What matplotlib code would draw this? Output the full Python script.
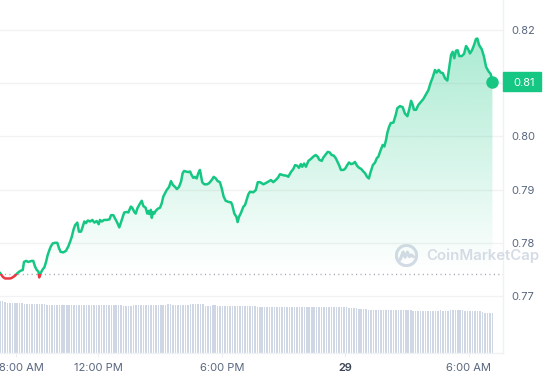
import numpy as np
import matplotlib
matplotlib.use('Agg')
import matplotlib.pyplot as plt
from matplotlib.patches import Rectangle, Circle
from matplotlib.transforms import ScaledTranslation, blended_transform_factory

plt.rcParams['font.family'] = ['Inter', 'DejaVu Sans']

# price series: hours since 00:00 of the 28th, price in USD
times = [7.21, 7.35, 7.46, 7.70, 7.78, 7.94, 8.06, 8.19, 8.32, 8.38,
         8.48, 8.59, 8.75, 8.83, 8.92, 9.00, 9.08, 9.12, 9.19, 9.27,
         9.37, 9.45, 9.53, 9.61, 9.68, 9.78, 9.89, 10.00, 10.08, 10.16,
         10.29, 10.42, 10.53, 10.62, 10.70, 10.78, 10.86, 10.97, 11.05, 11.15,
         11.23, 11.31, 11.39, 11.48, 11.59, 11.70, 11.80, 11.91, 12.01, 12.07,
         12.16, 12.27, 12.40, 12.53, 12.61, 12.72, 12.80, 12.91, 13.01, 13.13,
         13.25, 13.37, 13.45, 13.57, 13.64, 13.74, 13.81, 13.89, 14.02, 14.10,
         14.18, 14.29, 14.37, 14.42, 14.47, 14.54, 14.59, 14.65, 14.71, 14.78,
         14.88, 14.99, 15.07, 15.15, 15.23, 15.31, 15.43, 15.52, 15.61, 15.72,
         15.81, 15.91, 16.01, 16.09, 16.16, 16.25, 16.36, 16.45, 16.53, 16.61,
         16.69, 16.77, 16.85, 16.93, 16.98, 17.04, 17.14, 17.27, 17.37, 17.50,
         17.60, 17.70, 17.79, 17.90, 17.99, 18.08, 18.18, 18.31, 18.44, 18.50,
         18.60, 18.70, 18.76, 18.83, 18.93, 19.04, 19.12, 19.28, 19.36, 19.52,
         19.64, 19.74, 19.85, 20.01, 20.12, 20.25, 20.38, 20.49, 20.61, 20.71,
         20.82, 20.98, 21.15, 21.22, 21.35, 21.47, 21.55, 21.65, 21.74, 21.83,
         21.90, 21.99, 22.08, 22.20, 22.33, 22.44, 22.55, 22.65, 22.73, 22.85,
         22.92, 23.04, 23.14, 23.23, 23.33, 23.43, 23.53, 23.59, 23.69, 23.78,
         23.90, 23.98, 24.07, 24.17, 24.27, 24.37, 24.46, 24.56, 24.66, 24.76,
         24.87, 24.95, 25.05, 25.14, 25.19, 25.33, 25.44, 25.52, 25.60, 25.68,
         25.81, 25.89, 25.97, 26.03, 26.12, 26.20, 26.33, 26.44, 26.52, 26.65,
         26.78, 26.89, 27.01, 27.10, 27.19, 27.27, 27.33, 27.43, 27.54, 27.67,
         27.78, 27.90, 28.03, 28.14, 28.24, 28.35, 28.43, 28.53, 28.63, 28.73,
         28.84, 28.95, 29.05, 29.13, 29.21, 29.29, 29.37, 29.45, 29.53, 29.65,
         29.76, 29.86, 29.96, 30.05, 30.15, 30.25, 30.34, 30.41, 30.49, 30.62,
         30.73, 30.83, 30.94, 31.06, 31.14]

prices = [0.7744, 0.7736, 0.7733, 0.7733, 0.7734, 0.7738, 0.7743, 0.7747, 0.7749, 0.7764,
          0.7766, 0.7764, 0.7766, 0.7766, 0.7755, 0.7749, 0.7746, 0.7735, 0.7743, 0.7749,
          0.7754, 0.7764, 0.7777, 0.7786, 0.7793, 0.7799, 0.7800, 0.7800, 0.7790, 0.7783,
          0.7782, 0.7785, 0.7793, 0.7802, 0.7811, 0.7824, 0.7833, 0.7838, 0.7821, 0.7821,
          0.7830, 0.7840, 0.7837, 0.7842, 0.7840, 0.7843, 0.7838, 0.7841, 0.7835, 0.7843,
          0.7840, 0.7843, 0.7843, 0.7844, 0.7852, 0.7852, 0.7846, 0.7838, 0.7829, 0.7843,
          0.7857, 0.7858, 0.7857, 0.7868, 0.7866, 0.7858, 0.7855, 0.7865, 0.7874, 0.7879,
          0.7869, 0.7866, 0.7855, 0.7860, 0.7854, 0.7862, 0.7847, 0.7858, 0.7855, 0.7860,
          0.7864, 0.7866, 0.7874, 0.7887, 0.7893, 0.7899, 0.7905, 0.7916, 0.7909, 0.7905,
          0.7901, 0.7905, 0.7915, 0.7931, 0.7935, 0.7934, 0.7933, 0.7934, 0.7927, 0.7922,
          0.7924, 0.7921, 0.7931, 0.7937, 0.7926, 0.7914, 0.7910, 0.7910, 0.7912, 0.7918,
          0.7924, 0.7921, 0.7916, 0.7914, 0.7902, 0.7887, 0.7879, 0.7877, 0.7876, 0.7871,
          0.7855, 0.7849, 0.7839, 0.7849, 0.7857, 0.7868, 0.7871, 0.7891, 0.7896, 0.7895,
          0.7899, 0.7914, 0.7914, 0.7910, 0.7912, 0.7915, 0.7918, 0.7914, 0.7918, 0.7922,
          0.7929, 0.7927, 0.7926, 0.7924, 0.7933, 0.7939, 0.7946, 0.7945, 0.7941, 0.7948,
          0.7943, 0.7949, 0.7943, 0.7954, 0.7958, 0.7962, 0.7965, 0.7962, 0.7956, 0.7954,
          0.7960, 0.7966, 0.7971, 0.7970, 0.7965, 0.7964, 0.7959, 0.7954, 0.7946, 0.7937,
          0.7937, 0.7939, 0.7945, 0.7951, 0.7948, 0.7949, 0.7952, 0.7945, 0.7941, 0.7939,
          0.7934, 0.7931, 0.7924, 0.7921, 0.7929, 0.7946, 0.7951, 0.7959, 0.7962, 0.7971,
          0.7984, 0.7981, 0.7993, 0.8006, 0.8018, 0.8025, 0.8026, 0.8040, 0.8053, 0.8057,
          0.8055, 0.8043, 0.8038, 0.8051, 0.8067, 0.8059, 0.8050, 0.8050, 0.8059, 0.8065,
          0.8070, 0.8078, 0.8087, 0.8101, 0.8111, 0.8125, 0.8120, 0.8125, 0.8120, 0.8119,
          0.8109, 0.8105, 0.8131, 0.8153, 0.8159, 0.8147, 0.8161, 0.8162, 0.8151, 0.8151,
          0.8155, 0.8170, 0.8164, 0.8156, 0.8162, 0.8172, 0.8183, 0.8184, 0.8172, 0.8164,
          0.8150, 0.8131, 0.8123, 0.8117, 0.8103]

# volume bars (relative units), left to right
volumes = [52, 52, 51, 50, 50, 50, 50, 50, 50, 50,
           49, 49, 49, 49, 49, 49, 49, 49, 49, 48,
           48, 48, 48, 48, 48, 48, 48, 48, 48, 48,
           48, 48, 48, 48, 48, 48, 48, 48, 48, 48,
           48, 48, 48, 48, 48, 48, 48, 48, 48, 48,
           47, 47, 47, 47, 48, 48, 48, 48, 48, 48,
           48, 48, 48, 48, 48, 48, 48, 48, 49, 49,
           48, 48, 48, 48, 48, 48, 48, 49, 49, 49,
           49, 49, 49, 47, 47, 47, 48, 48, 47, 47,
           47, 47, 47, 47, 47, 47, 47, 47, 47, 47,
           47, 47, 47, 47, 46, 46, 46, 46, 46, 46,
           46, 46, 46, 46, 46, 46, 46, 46, 46, 46,
           46, 46, 46, 46, 46, 46, 46, 46, 46, 46,
           46, 46, 46, 46, 46, 46, 46, 46, 46, 46,
           46, 45, 45, 45, 45, 44, 44, 44, 44, 43,
           43, 43, 43, 43, 43, 43, 43, 43, 43, 43,
           43, 43, 43, 43, 43, 43, 43, 42, 42, 42,
           42, 42, 42, 42, 42, 42, 42, 42, 43, 42,
           42, 42, 43, 43, 43, 43, 43, 43, 42, 42,
           42, 42, 42, 42, 42, 41, 40, 40, 40, 40]

open_price = 0.7741
y_ticks = [0.77, 0.78, 0.79, 0.80, 0.81, 0.82]
y_labels = ['0.77', '0.78', '0.79', '0.80', '', '0.82']
x_ticks = [8, 12, 18, 24, 30]
x_labels = ['8:00 AM', '12:00 PM', '6:00 PM', '29', '6:00 AM']

green = '#16c784'
red = '#ea3943'
grey = '#58667e'

fig = plt.figure(figsize=(5.45, 3.8), dpi=100)
ax = fig.add_axes([0, 27 / 380, 503 / 545, 353 / 380])
ax2 = ax.twinx()
ax.set_zorder(ax2.get_zorder() + 1)
ax.patch.set_visible(False)

x0, x1 = 7.214, 31.655
ax.set_xlim(x0, x1)
ax.set_ylim(0.75929, 0.82564)

# volume bars
bar_x = np.linspace(times[0], times[-1], len(volumes))
step = bar_x[1] - bar_x[0]
ax2.bar(bar_x, volumes, width=step * 0.62, color='#cfd6e4', linewidth=0)
ax2.set_ylim(0, max(volumes) / 0.147)
ax2.set_yticks([])
for s in ax2.spines.values():
    s.set_visible(False)

# gradient fill under the line
poly = ax.fill_between(times, prices, open_price, color='none', linewidth=0)
grad = np.zeros((256, 1, 4))
grad[:, 0, :3] = matplotlib.colors.to_rgb(green)
grad[:, 0, 3] = np.linspace(0.0, 0.36, 256)
im = ax.imshow(grad, extent=[x0, x1, open_price, max(prices)], origin='lower',
               aspect='auto', zorder=1)
im.set_clip_path(poly.get_paths()[0], transform=ax.transData)

# line: green above open, red below
line_g, = ax.plot(times, prices, color=green, lw=1.8, zorder=3,
                  solid_joinstyle='round', solid_capstyle='round')
line_g.set_clip_path(Rectangle((x0, open_price), x1 - x0, 1, transform=ax.transData))
line_r, = ax.plot(times, prices, color=red, lw=1.8, zorder=3,
                  solid_joinstyle='round', solid_capstyle='round')
line_r.set_clip_path(Rectangle((x0, open_price - 1), x1 - x0, 1, transform=ax.transData))

ax.axhline(open_price, color='#a1a7b3', lw=1, ls=(0, (0.8, 2.4)), zorder=2)
ax.plot(times[-1], prices[-1], 'o', ms=8, color=green, zorder=4, clip_on=False)

# axes styling
ax.yaxis.tick_right()
ax.set_yticks(y_ticks, y_labels)
ax.yaxis.grid(True, color='#f2f2f2', lw=1)
ax.set_axisbelow(True)
ax.tick_params(axis='y', length=0, pad=6, labelsize=8, labelcolor=grey)
ax.set_xticks(x_ticks, x_labels)
ax.tick_params(axis='x', length=3, color='#eceef2', pad=4, labelsize=8, labelcolor=grey)
for s in ['top', 'left']:
    ax.spines[s].set_visible(False)
for s in ['right', 'bottom']:
    ax.spines[s].set_color('#eff1f4')
    ax.spines[s].set_linewidth(1)

xl = ax.get_xticklabels()
xl[0].set_transform(xl[0].get_transform() + ScaledTranslation(4 / 72, 0, fig.dpi_scale_trans))
xl[3].set_fontweight('semibold')
xl[3].set_color('#3d4453')

# current price badge
bt = blended_transform_factory(ax.transAxes, ax.transData)
ax.add_patch(Rectangle((1.0, prices[-1] - 0.00185), 38 / 503, 0.0036, transform=bt,
                       color=green, clip_on=False, zorder=5))
ax.text(1.0 + 10 / 503, prices[-1] - 0.0002, '0.81', transform=bt, ha='left', va='center',
        color='white', fontsize=8, zorder=6, clip_on=False)

# watermark
lax = fig.add_axes([395 / 545, 113 / 380, 23 / 545, 23 / 380])
lax.set_xlim(-1, 1)
lax.set_ylim(-1, 1)
lax.axis('off')
wm = '#d5dbe5'
lax.add_patch(Circle((0, 0), 0.88, fill=False, ec=wm, lw=2.2))
lax.plot([-0.55, -0.3, -0.12, 0.08, 0.25, 0.42, 0.6], [-0.35, 0.3, -0.15, 0.3, -0.1, 0.05, -0.1],
         color=wm, lw=2.2, solid_joinstyle='round', solid_capstyle='round')
fig.text(426 / 545, 124 / 380, 'CoinMarketCap', fontsize=10.8, fontweight='semibold',
         color=wm, ha='left', va='center')

fig.savefig('out.png', dpi=100)
